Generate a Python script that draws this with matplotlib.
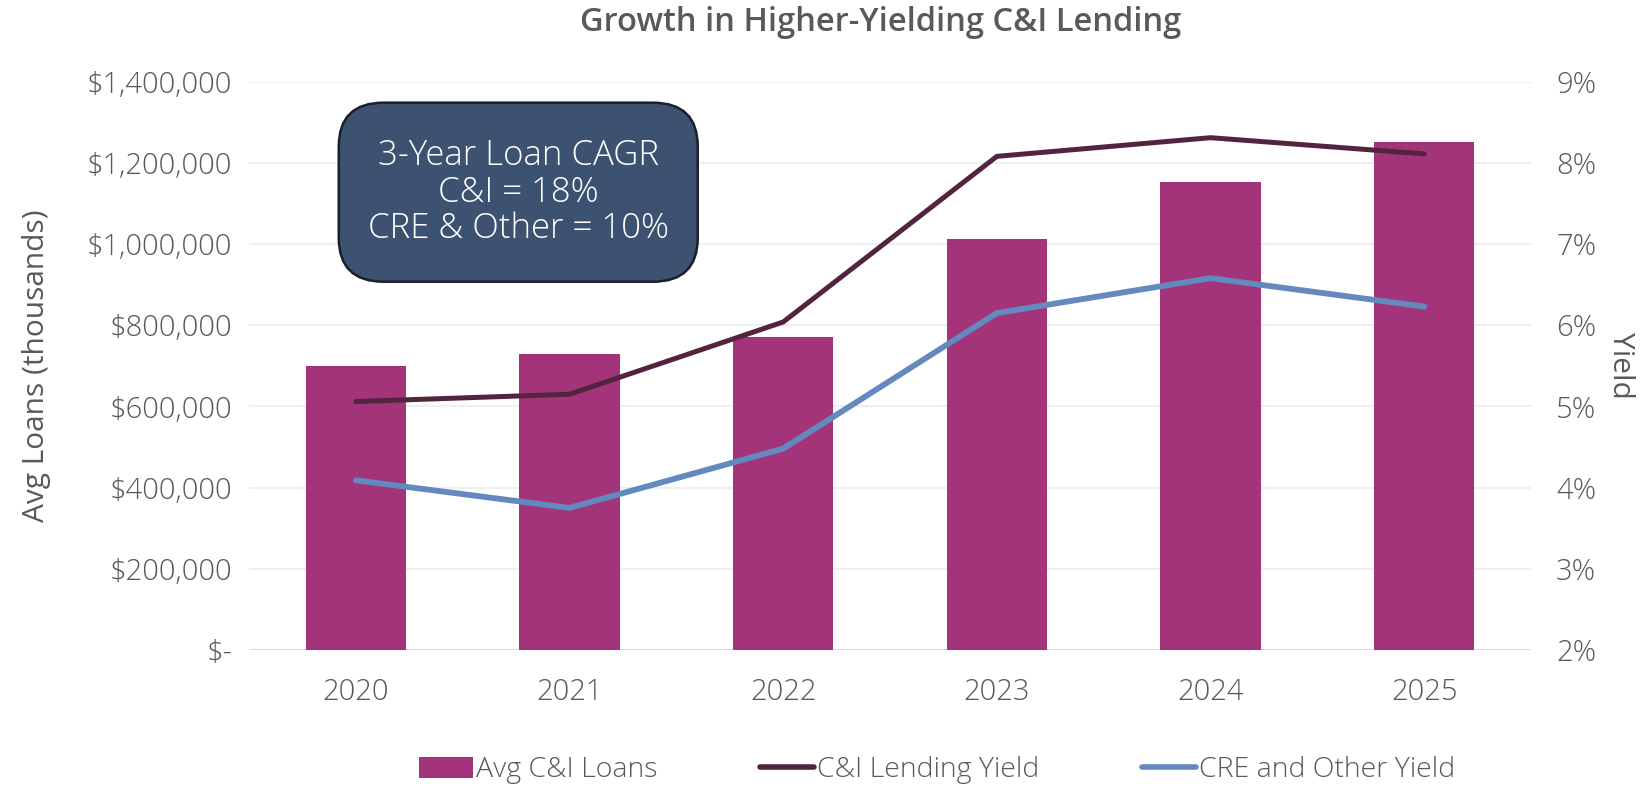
import matplotlib
matplotlib.use("Agg")
import matplotlib.pyplot as plt
from matplotlib.patches import FancyBboxPatch, Patch
from matplotlib.lines import Line2D
from matplotlib.ticker import FuncFormatter

years = ["2020", "2021", "2022", "2023", "2024", "2025"]
avg_ci_loans = [700000, 728000, 770000, 1013000, 1153000, 1252000]
ci_yield = [5.06, 5.15, 6.04, 8.08, 8.31, 8.11]
cre_yield = [4.09, 3.75, 4.48, 6.15, 6.58, 6.23]

TEXT = "#595959"
BAR = "#A3347A"
CI_LINE = "#52243F"
CRE_LINE = "#6389BF"

plt.rcParams["font.family"] = ["Open Sans", "DejaVu Sans"]
plt.rcParams["font.weight"] = "light"


def money(v, pos):
    if v == 0:
        return "$-"
    return f"${v:,.0f}"


def main():
    fig = plt.figure(figsize=(16.47, 7.89), dpi=100)
    ax = fig.add_axes([0.1512, 0.1762, 0.7784, 0.7203])
    ax2 = ax.twinx()

    x = range(len(years))
    ax.bar(x, avg_ci_loans, width=0.47, color=BAR, zorder=2)
    ax.set_ylim(0, 1400000)
    ax.set_yticks(range(0, 1400001, 200000))
    ax.yaxis.set_major_formatter(FuncFormatter(money))
    ax.set_xlim(-0.5, 5.5)
    ax.set_xticks(list(x))
    ax.set_xticklabels(years)
    ax.grid(axis="y", color="#EFEFEF", linewidth=1.5, zorder=0)
    ax.set_axisbelow(True)

    ax2.plot(x, ci_yield, color=CI_LINE, linewidth=3.6, solid_capstyle="round", zorder=3)
    ax2.plot(x, cre_yield, color=CRE_LINE, linewidth=4.2, solid_capstyle="round", zorder=3)
    ax2.set_ylim(2, 9)
    ax2.set_yticks(range(2, 10))
    ax2.yaxis.set_major_formatter(FuncFormatter(lambda v, p: f"{v:.0f}%"))

    for a in (ax, ax2):
        for side in ("top", "left", "right", "bottom"):
            a.spines[side].set_visible(False)
        a.tick_params(length=0, labelsize=21, labelcolor=TEXT)
    ax.axhline(0, color="#D9D9D9", linewidth=2, zorder=1)
    ax.tick_params(axis="x", pad=20)
    ax.tick_params(axis="y", pad=12)
    ax2.tick_params(axis="y", pad=18)

    ax.set_ylabel("Avg Loans (thousands)", fontsize=21.5, color=TEXT, labelpad=26)
    ax2.set_ylabel("Yield", fontsize=21.5, color=TEXT, rotation=270, labelpad=28)

    fig.text(0.5345, 0.971, "Growth in Higher-Yielding C&I Lending", ha="center", va="center",
             fontsize=23.5, color=TEXT, fontweight="semibold")

    # callout box
    box = FancyBboxPatch((0.07, 0.648), 0.28, 0.315, transform=ax.transAxes,
                         boxstyle="round,pad=0,rounding_size=0.035",
                         facecolor="#3D5170", edgecolor="#1A1F2B", linewidth=1.8, zorder=5,
                         mutation_aspect=2.2)
    ax.add_patch(box)
    ax.text(0.21, 0.805, "3-Year Loan CAGR\nC&I = 18%\nCRE & Other = 10%", transform=ax.transAxes,
            ha="center", va="center", fontsize=25, color="white", linespacing=1.07, zorder=6)

    handles = [
        Patch(facecolor=BAR, label="Avg C&I Loans"),
        Line2D([], [], color=CI_LINE, linewidth=4, solid_capstyle="round", label="C&I Lending Yield"),
        Line2D([], [], color=CRE_LINE, linewidth=4, solid_capstyle="round", label="CRE and Other Yield"),
    ]
    fig.legend(handles=handles, loc="center", bbox_to_anchor=(0.569, 0.024), ncol=3, frameon=False,
               fontsize=20.5, labelcolor=TEXT, handlelength=1.9, handleheight=0.75,
               handletextpad=0.1, columnspacing=3.6)

    fig.savefig("out.png", dpi=100)


if __name__ == "__main__":
    main()
